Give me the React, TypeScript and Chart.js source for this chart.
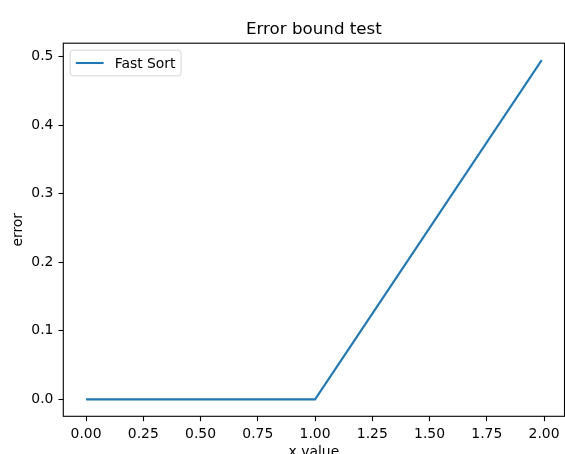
import React, { useEffect, useRef } from "react";
import { Chart, registerables } from "chart.js";

Chart.register(...registerables);

// ---- data ----
const chartTitle = "Error bound test";
const xLabel = "x value";
const yLabel = "error";
const seriesLabel = "Fast Sort";
const xValues = [0, 1, 1.99];
const errorValues = [0, 0, 0.495];
const xTicks = [0, 0.25, 0.5, 0.75, 1.0, 1.25, 1.5, 1.75, 2.0];
const yTicks = [0, 0.1, 0.2, 0.3, 0.4, 0.5];

const FONT = "'DejaVu Sans', 'Liberation Sans', sans-serif";
const TICK_SIZE = 13.9;
const LINE_COLOR = "#1f77b4";

const mplPlugin = {
  id: "mplDecor",
  afterDatasetsDraw(chart: any) {
    const { ctx, chartArea: a } = chart;
    ctx.save();
    ctx.strokeStyle = "#000";
    ctx.lineWidth = 1.1;
    ctx.strokeRect(a.left, a.top, a.right - a.left, a.bottom - a.top);
    ctx.restore();
  },
  afterDraw(chart: any) {
    const { ctx, chartArea: a } = chart;
    const cx = (a.left + a.right) / 2;
    const cy = (a.top + a.bottom) / 2;
    ctx.save();
    ctx.fillStyle = "#000";
    // title
    ctx.font = `16.7px ${FONT}`;
    ctx.textAlign = "center";
    ctx.textBaseline = "alphabetic";
    ctx.fillText(chartTitle, cx, 34.3);
    // x label
    ctx.font = `${TICK_SIZE}px ${FONT}`;
    ctx.fillText(xLabel, cx, a.bottom + 39.3);
    // y label
    ctx.save();
    ctx.translate(22.4, cy);
    ctx.rotate(-Math.PI / 2);
    ctx.fillText(yLabel, 0, 0);
    ctx.restore();

    // legend
    const fs = TICK_SIZE;
    const label = chart.data.datasets[0].label as string;
    ctx.font = `${fs}px ${FONT}`;
    const tw = ctx.measureText(label).width;
    const bx = a.left + 0.5 * fs;
    const by = a.top + 0.5 * fs;
    const bw = 0.4 * fs + 2 * fs + 0.8 * fs + tw + 0.4 * fs;
    const bh = 25.7;
    const r = 0.2 * fs;
    ctx.beginPath();
    ctx.moveTo(bx + r, by);
    ctx.lineTo(bx + bw - r, by);
    ctx.quadraticCurveTo(bx + bw, by, bx + bw, by + r);
    ctx.lineTo(bx + bw, by + bh - r);
    ctx.quadraticCurveTo(bx + bw, by + bh, bx + bw - r, by + bh);
    ctx.lineTo(bx + r, by + bh);
    ctx.quadraticCurveTo(bx, by + bh, bx, by + bh - r);
    ctx.lineTo(bx, by + r);
    ctx.quadraticCurveTo(bx, by, bx + r, by);
    ctx.closePath();
    ctx.fillStyle = "rgba(255,255,255,0.8)";
    ctx.fill();
    ctx.strokeStyle = "rgba(204,204,204,0.8)";
    ctx.lineWidth = 1;
    ctx.stroke();
    const ly = by + bh / 2;
    const hx = bx + 0.4 * fs;
    ctx.beginPath();
    ctx.moveTo(hx, ly);
    ctx.lineTo(hx + 2 * fs, ly);
    ctx.strokeStyle = LINE_COLOR;
    ctx.lineWidth = 2.08;
    ctx.stroke();
    ctx.fillStyle = "#000";
    ctx.textAlign = "left";
    ctx.textBaseline = "alphabetic";
    ctx.fillText(label, hx + 2 * fs + 0.8 * fs, ly + 5);
    ctx.restore();
  },
};

export default function App() {
  const ref = useRef<HTMLCanvasElement>(null);
  useEffect(() => {
    if (!ref.current) return;
    const points = xValues.map((x, i) => ({ x, y: errorValues[i] }));
    const xMin = Math.min(...xValues);
    const xMax = Math.max(...xValues);
    const yMin = Math.min(...errorValues);
    const yMax = Math.max(...errorValues);
    const xm = (xMax - xMin) * 0.05;
    const ym = (yMax - yMin) * 0.05;
    const tickFont = { family: FONT, size: TICK_SIZE };
    const chart = new Chart(ref.current, {
      type: "line",
      data: {
        datasets: [
          {
            label: seriesLabel,
            data: points,
            borderColor: LINE_COLOR,
            backgroundColor: LINE_COLOR,
            borderWidth: 2.08,
            pointRadius: 0,
            tension: 0,
            fill: false,
          },
        ],
      },
      plugins: [mplPlugin],
      options: {
        animation: false,
        responsive: false,
        events: [],
        layout: { padding: { top: 43.2, right: 0.5, left: 0, bottom: 0 } },
        plugins: {
          legend: { display: false },
          title: { display: false },
          tooltip: { enabled: false },
        },
        scales: {
          x: {
            type: "linear",
            min: xMin - xm,
            max: xMax + xm,
            afterBuildTicks: (s: any) => {
              s.ticks = xTicks.map((v) => ({ value: v }));
            },
            afterFit: (s: any) => {
              s.height = 37.7;
            },
            grid: {
              drawOnChartArea: false,
              drawTicks: true,
              tickLength: 4.86,
              tickWidth: 1.1,
              tickColor: "#000",
            },
            border: { display: false },
            ticks: {
              autoSkip: false,
              maxRotation: 0,
              padding: 4.6,
              color: "#000",
              font: tickFont,
              callback: (v: any) => Number(v).toFixed(2),
            },
          },
          y: {
            type: "linear",
            min: yMin - ym,
            max: yMax + ym,
            afterBuildTicks: (s: any) => {
              s.ticks = yTicks.map((v) => ({ value: v }));
            },
            afterFit: (s: any) => {
              s.width = 63.3;
            },
            grid: {
              drawOnChartArea: false,
              drawTicks: true,
              tickLength: 4.86,
              tickWidth: 1.1,
              tickColor: "#000",
            },
            border: { display: false },
            ticks: {
              autoSkip: false,
              padding: 5,
              color: "#000",
              font: tickFont,
              callback: (v: any) => Number(v).toFixed(1),
            },
          },
        },
      },
    } as any);
    return () => chart.destroy();
  }, []);
  return (
    <div style={{ position: "absolute", left: 0, top: 0, width: 565, height: 454, overflow: "hidden", background: "#fff" }}>
      <canvas ref={ref} width={565} height={454} style={{ display: "block", width: 565, height: 454 }} />
    </div>
  );
}
